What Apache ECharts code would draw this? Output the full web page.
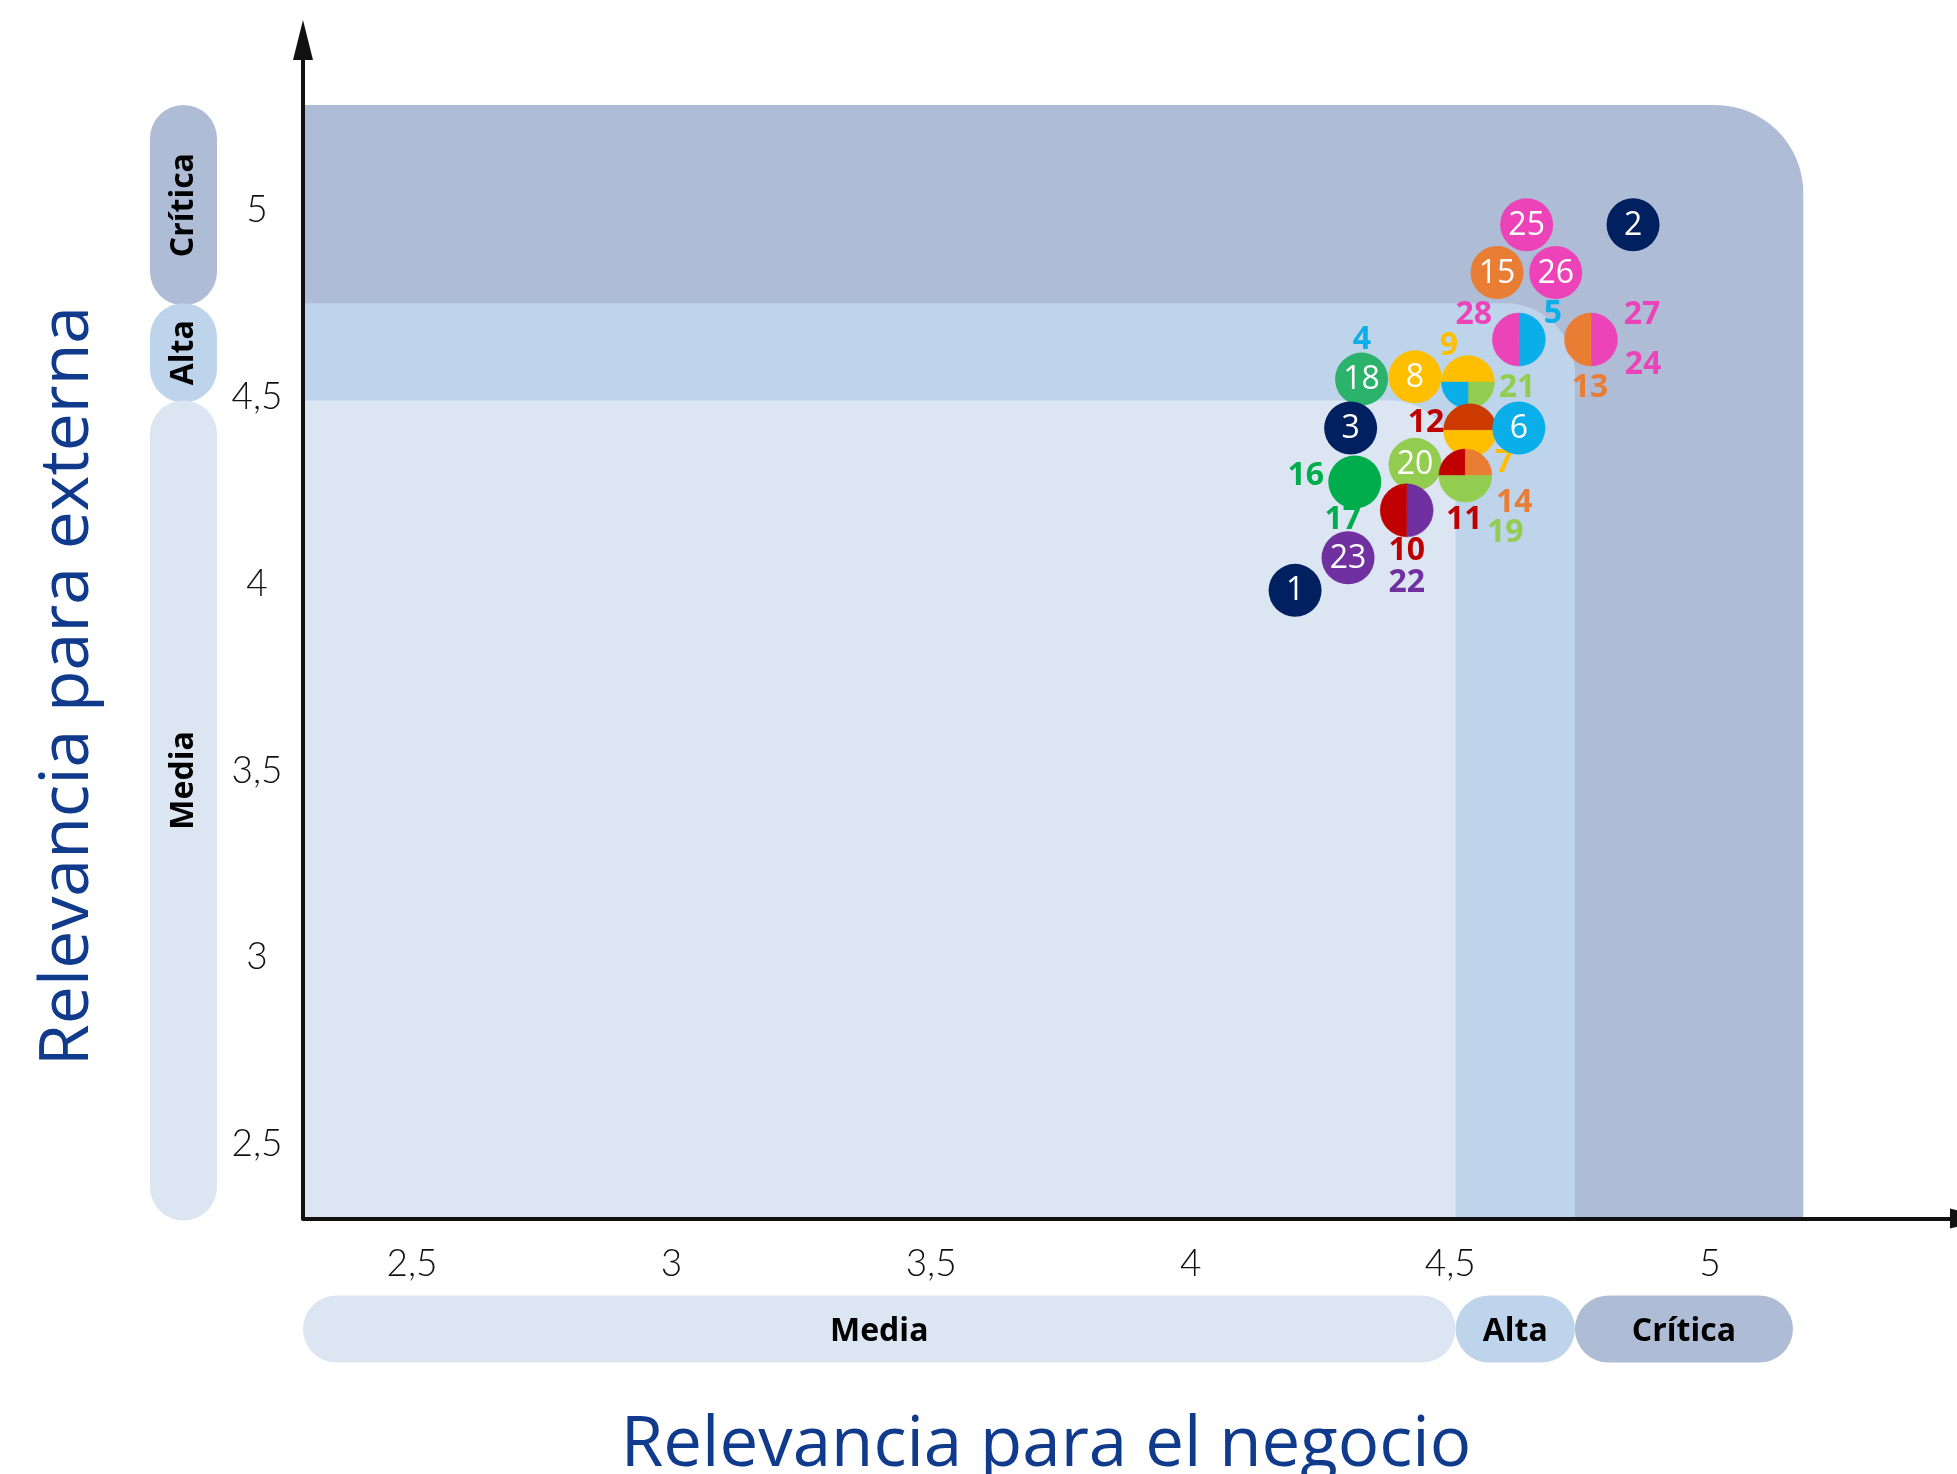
<!DOCTYPE html>
<html><head><meta charset="utf-8">
<script src="https://cdn.jsdelivr.net/npm/echarts@6/dist/echarts.min.js"></script>
<style>html,body{margin:0;padding:0;background:#fff}#c{width:1957px;height:1474px}</style>
</head><body><div id="c"></div>
<script>
// ---------------- DATA ----------------
const xTickValues = [2.5, 3, 3.5, 4, 4.5, 5];
const yTickValues = [2.5, 3, 3.5, 4, 4.5, 5];
const xAxisTitle = 'Relevancia para el negocio';
const yAxisTitle = 'Relevancia para externa';

const zoneNames = ['Crítica', 'Alta', 'Media'];
const zoneXEnd = [5.18, 4.74, 4.51];      // right edge of each zone (business relevance)
const zoneYEnd = [5.28, 4.75, 4.49];      // top edge of each zone (external relevance)
const zonePillXEnd = [5.16, 4.74, 4.51];  // right end of the bottom zone pills

const bubbleX = [4.852, 4.647, 4.590, 4.703, 4.632, 4.771, 4.329, 4.432, 4.534, 4.538, 4.632, 4.308, 4.432, 4.529, 4.316, 4.416, 4.303, 4.201];
const bubbleY = [4.960, 4.960, 4.832, 4.832, 4.653, 4.653, 4.547, 4.553, 4.539, 4.410, 4.416, 4.416, 4.319, 4.289, 4.272, 4.196, 4.069, 3.982];
const bubbleTopics = [['2'], ['25'], ['15'], ['26'], ['5', '28'], ['27', '24', '13'], ['18'], ['8'], ['9', '21', '4'], ['12', '7'], ['6'], ['3'], ['20'], ['11', '14', '19'], ['16', '17'], ['22', '10'], ['23'], ['1']];
const bubbleShares = [[1], [1], [1], [1], [0.5, 0.5], [0.25, 0.25, 0.5], [1], [1], [0.5, 0.25, 0.25], [0.5, 0.5], [1], [1], [1], [0.25, 0.25, 0.5], [0.5, 0.5], [0.5, 0.5], [1], [1]];

// ---------------- STYLE / LAYOUT ----------------
const NAVY = '#002060', BLUE = '#0aaee9', YELLOW = '#ffbf00', RED = '#c00000', ORANGE = '#e97d33',
      GREEN = '#00ad4c', LGREEN = '#92cd4f', PURPLE = '#7030a0', PINK = '#ec44b8';
const topicColors = {
  '1': NAVY, '2': NAVY, '3': NAVY, '4': BLUE, '5': BLUE, '6': BLUE, '7': YELLOW, '8': YELLOW, '9': YELLOW,
  '10': RED, '11': RED, '12': RED, '13': ORANGE, '14': ORANGE, '15': ORANGE, '16': GREEN, '17': GREEN,
  '18': '#2bb36b', '19': LGREEN, '20': LGREEN, '21': LGREEN, '22': PURPLE, '23': PURPLE,
  '24': PINK, '25': PINK, '26': PINK, '27': PINK, '28': PINK
};
const sliceColorOverride = { '12': '#cc3a00' };
const sliceStartDeg = { '5': -90, '27': -90, '9': 180, '12': 180, '11': 180, '22': -90, '16': -90 };
const labelOffsets = {
  '28': [-45, -25], '5': [34, -26], '27': [51, -25], '24': [52, 25], '13': [-1, 48], '4': [-106, -42],
  '9': [-19, -36], '21': [49, 6], '12': [-44, -7], '7': [34, 33], '16': [-49, -6], '17': [-12, 38],
  '11': [-1, 44], '14': [49, 27], '19': [40, 57], '10': [0, 41], '22': [0, 73]
};
const zoneColors = ['#afbcd6', '#bdd4ea', '#dbe6f2'];
const zoneCornerR = [88, 70, 65];
const verticalPillTextShift = [0, 0, -30];
const BUBBLE_R = 26.5;
const X_MIN = 2.29, X_MAX = 5.476, Y_MIN = 2.302, Y_MAX = 5.454;
const FONT = '"Open Sans", "Noto Sans", sans-serif';
const TITLE_COLOR = '#103a8c';

const chart = echarts.init(document.getElementById('c'), null, { renderer: 'canvas' });

function fmt(v) { return String(v).replace('.', ','); }

function renderZone(params, api) {
  const i = params.dataIndex;
  const p0 = api.coord([X_MIN, Y_MIN]);
  const p1 = api.coord([api.value(0), api.value(1)]);
  return {
    type: 'rect',
    shape: { x: p0[0], y: p1[1], width: p1[0] - p0[0], height: p0[1] - p1[1], r: [0, zoneCornerR[i], 0, 0] },
    style: { fill: zoneColors[i] }
  };
}

function pillText(text, x, y, rot) {
  return {
    type: 'text', x: x, y: y, rotation: rot || 0,
    style: { text: text, fill: '#000', font: '700 32px ' + FONT, align: 'center', verticalAlign: 'middle', textAlign: 'center', textVerticalAlign: 'middle' }
  };
}

function renderPills(params, api) {
  const i = params.dataIndex;
  const cs = params.coordSys;
  const yTop = api.coord([X_MIN, zoneYEnd[i]])[1];
  const yBot = api.coord([X_MIN, i < zoneYEnd.length - 1 ? zoneYEnd[i + 1] : Y_MIN])[1] + 2;
  const vx = cs.x - 153, vw = 67;
  const xL = api.coord([i < zonePillXEnd.length - 1 ? zonePillXEnd[i + 1] : X_MIN, Y_MIN])[0];
  const xR = api.coord([zonePillXEnd[i], Y_MIN])[0];
  const hy = cs.y + cs.height + 77, hh = 67;
  return {
    type: 'group',
    children: [
      { type: 'rect', shape: { x: vx, y: yTop, width: vw, height: yBot - yTop, r: vw / 2 }, style: { fill: zoneColors[i] } },
      pillText(zoneNames[i], vx + vw / 2, (yTop + yBot) / 2 + verticalPillTextShift[i], Math.PI / 2),
      { type: 'rect', shape: { x: xL, y: hy, width: xR - xL, height: hh, r: hh / 2 }, style: { fill: zoneColors[i] } },
      pillText(zoneNames[i], (xL + xR) / 2, hy + hh / 2 + 3, 0)
    ]
  };
}

function renderBubble(params, api) {
  const i = params.dataIndex;
  const c = api.coord([api.value(0), api.value(1)]);
  const topics = bubbleTopics[i], shares = bubbleShares[i];
  const children = [];
  const slices = [];
  topics.forEach((t, k) => {
    const col = sliceColorOverride[t] || topicColors[t];
    const last = slices[slices.length - 1];
    if (last && last.col === col) last.share += shares[k];
    else slices.push({ col: col, share: shares[k] });
  });
  let a = (sliceStartDeg[topics[0]] !== undefined ? sliceStartDeg[topics[0]] : -90) * Math.PI / 180;
  slices.forEach(s => {
    const span = s.share * 2 * Math.PI;
    if (s.share >= 0.999) {
      children.push({ type: 'circle', shape: { cx: c[0], cy: c[1], r: BUBBLE_R }, style: { fill: s.col } });
    } else {
      children.push({
        type: 'sector',
        shape: { cx: c[0], cy: c[1], r0: 0, r: BUBBLE_R, startAngle: a, endAngle: a + span, clockwise: true },
        style: { fill: s.col, stroke: s.col, lineWidth: 0.5 }
      });
    }
    a += span;
  });
  if (topics.length === 1) {
    children.push({
      type: 'text', x: c[0], y: c[1] + 1,
      style: { text: topics[0], fill: '#fff', font: '500 32px ' + FONT, align: 'center', verticalAlign: 'middle', textAlign: 'center', textVerticalAlign: 'middle' }
    });
  } else {
    topics.forEach(t => {
      const off = labelOffsets[t] || [0, 0];
      children.push({
        type: 'text', x: c[0] + off[0], y: c[1] + off[1],
        style: { text: t, fill: topicColors[t], font: '700 32px ' + FONT, align: 'center', verticalAlign: 'middle', textAlign: 'center', textVerticalAlign: 'middle' }
      });
    });
  }
  return { type: 'group', children: children };
}

const option = {
  backgroundColor: '#ffffff',
  animation: false,
  grid: { left: 303, right: 0, top: 40, bottom: 255.5, containLabel: false },
  xAxis: {
    type: 'value', min: X_MIN, max: X_MAX, z: 10,
    splitLine: { show: false }, axisTick: { show: false },
    axisLine: { show: true, onZero: false, symbol: ['none', 'triangle'], symbolSize: [20, 40], symbolOffset: [0, 13], lineStyle: { color: '#111', width: 4 } },
    axisLabel: { customValues: xTickValues, formatter: fmt, color: '#111', fontFamily: 'Lato, ' + FONT, fontWeight: 300, fontSize: 37, margin: 46, verticalAlign: 'middle' }
  },
  yAxis: {
    type: 'value', min: Y_MIN, max: Y_MAX, z: 10,
    splitLine: { show: false }, axisTick: { show: false },
    axisLine: { show: true, onZero: false, symbol: ['none', 'triangle'], symbolSize: [20, 40], lineStyle: { color: '#111', width: 4 } },
    axisLabel: { customValues: yTickValues, formatter: fmt, color: '#111', fontFamily: 'Lato, ' + FONT, fontWeight: 300, fontSize: 37, margin: 46, align: 'center' }
  },
  graphic: [
    { type: 'text', x: 1046, y: 1446, z: 100,
      style: { text: xAxisTitle, fill: TITLE_COLOR, font: '400 69px ' + FONT, align: 'center', verticalAlign: 'middle', textAlign: 'center', textVerticalAlign: 'middle' } },
    { type: 'text', x: 69, y: 686, rotation: Math.PI / 2, z: 100,
      style: { text: yAxisTitle, fill: TITLE_COLOR, font: '400 68px ' + FONT, align: 'center', verticalAlign: 'middle', textAlign: 'center', textVerticalAlign: 'middle' } }
  ],
  series: [
    { type: 'custom', name: 'zones', z: 1, silent: true, renderItem: renderZone,
      data: zoneNames.map((n, i) => [zoneXEnd[i], zoneYEnd[i], i]) },
    { type: 'custom', name: 'pills', z: 1, silent: true, renderItem: renderPills,
      data: zoneNames.map((n, i) => [zonePillXEnd[i], zoneYEnd[i], i]) },
    { type: 'custom', name: 'temas', z: 5, renderItem: renderBubble,
      data: bubbleX.map((x, i) => [x, bubbleY[i], i]) }
  ]
};
chart.setOption(option);
</script>
</body></html>
